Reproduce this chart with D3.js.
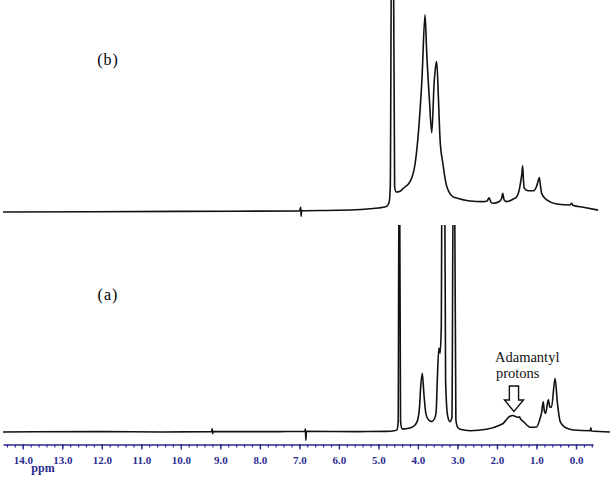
<!DOCTYPE html>
<html>
<head>
<meta charset="utf-8">
<script src="https://cdn.jsdelivr.net/npm/d3@7"></script>
<style>
  body { margin: 0; background: #fff; }
  svg { display: block; }
  text { font-family: "Liberation Serif", "DejaVu Serif", serif; }
</style>
</head>
<body>
<svg id="nmr" width="614" height="477"></svg>
<script>
// spectrum (b): chemical shift (ppm) and intensity (arbitrary units, 100 = panel top)
var ppmB = [14.5, 10.0, 7.0, 6.965, 6.955, 6.945, 6.0, 5.0, 4.8, 4.73, 4.70, 4.665, 4.625, 4.59, 4.55,
  4.45, 4.37, 4.20, 4.07, 3.99, 3.90, 3.82, 3.78, 3.71, 3.65, 3.59, 3.54, 3.525, 3.48, 3.44, 3.37,
  3.27, 3.10, 3.02, 2.68, 2.35, 2.25, 2.20, 2.15, 2.09, 1.95, 1.88, 1.855, 1.82, 1.75, 1.60, 1.50,
  1.43, 1.40, 1.37, 1.35, 1.33, 1.31, 1.21, 1.08, 1.00, 0.96, 0.93, 0.90, 0.87, 0.74, 0.49, 0.15,
  0.11, 0.08, -0.185, -0.56];
var intB = [0, 0.3, 0.5, 2.2, -2, 0.6, 0.8, 1.9, 2.6, 4.5, 12, 140, 140, 12, 9.4,
  9.8, 11.2, 14.3, 23, 37, 62, 93, 76, 53, 37.4, 61, 70, 71, 53, 34, 23,
  12, 7, 6.6, 5.2, 4.9, 5.2, 6.7, 4.6, 4.1, 4.8, 6.5, 8.8, 5.8, 4.9, 6.0, 7.2,
  11, 14.3, 18, 21.8, 15, 11.2, 10, 10, 12, 14.5, 16.2, 12.5, 8.8, 5.7, 3.8, 3.3,
  4.1, 3.2, 2.2, 0.9];

// spectrum (a)
var ppmA = [14.5, 12.0, 10.5, 9.22, 9.205, 9.195, 9.18, 7.5, 6.86, 6.848, 6.836, 6.822, 5.5, 4.8, 4.6,
  4.53, 4.50, 4.478, 4.465, 4.44, 4.40, 4.30, 4.12, 4.02, 3.96, 3.93, 3.89, 3.85, 3.80, 3.74, 3.65,
  3.58, 3.54, 3.51, 3.47, 3.44, 3.41, 3.39, 3.375, 3.36, 3.345, 3.325, 3.30, 3.25, 3.19, 3.14,
  3.105, 3.075, 3.04, 3.0, 2.93, 2.68, 2.26, 1.92, 1.84, 1.71, 1.67, 1.60, 1.54, 1.46, 1.43, 1.40,
  1.33, 1.16, 1.0, 0.92, 0.87, 0.83, 0.80, 0.77, 0.70, 0.66, 0.62, 0.53, 0.47, 0.40, 0.28, 0.07,
  -0.36, -0.375, -0.39, -0.86];
var intA = [0, 0.2, 0, 0.2, 1.6, -0.8, 0.2, 0.2, 0.3, 1.6, -4, 0.3, 0.2, 0.3, 0.6,
  1, 5, 130, 130, 5, 1.5, 1.6, 2.6, 5, 12, 21.9, 28.4, 18.7, 9, 6, 5.0,
  6.5, 9.5, 25, 40.6, 38, 50, 130, 130, 100, 130, 130, 25, 8, 5, 7,
  130, 130, 6, 2.5, 1.3, 0.6, 1.3, 3.4, 4.2, 7.1, 7.6, 8.0, 7.6, 7.1, 7.3, 6.2,
  5.0, 2.3, 2.4, 5.8, 9.5, 14.6, 10, 9, 15.5, 12, 12, 25.9, 13.9, 5, 2.3, 1,
  0.6, 2, 0.5, 0];

var majorTicks = [14, 13, 12, 11, 10, 9, 8, 7, 6, 5, 4, 3, 2, 1, 0];
var panelLabels = ["(b)", "(a)"];
var annotationLines = ["Adamantyl", "protons"];
var annotationPpm = 1.57;

var svg = d3.select("#nmr");
var axisColor = "#2b2b8f";
var serif = "'Liberation Serif', 'DejaVu Serif', serif";

var x = d3.scaleLinear().domain([14.5, -0.43]).range([3, 593]);
var yB = d3.scaleLinear().domain([0, 100]).range([212, 0]);
var yA = d3.scaleLinear().domain([0, 100]).range([432, 225]);

svg.append("defs").append("clipPath")
  .attr("id", "clipA")
  .append("rect")
  .attr("x", 0).attr("y", 225).attr("width", 614).attr("height", 252);

function drawTrace(ppm, ints, y, clip) {
  var pts = ppm.map(function(p, i) { return [p, ints[i]]; });
  var line = d3.line()
    .x(function(d) { return x(d[0]); })
    .y(function(d) { return y(d[1]); })
    .curve(d3.curveMonotoneX);
  var path = svg.append("path")
    .datum(pts)
    .attr("d", line)
    .attr("fill", "none")
    .attr("stroke", "#111")
    .attr("stroke-width", 1.6)
    .attr("stroke-linejoin", "round");
  if (clip) path.attr("clip-path", "url(#" + clip + ")");
}

drawTrace(ppmB, intB, yB, null);
drawTrace(ppmA, intA, yA, "clipA");

// panel labels
svg.selectAll(".panel-label")
  .data([{t: panelLabels[0], y: 65}, {t: panelLabels[1], y: 300}])
  .enter().append("text")
  .attr("class", "panel-label")
  .attr("x", 108).attr("y", function(d) { return d.y; })
  .attr("text-anchor", "middle")
  .attr("font-family", serif)
  .attr("font-size", 16)
  .style("letter-spacing", "1px")
  .text(function(d) { return d.t; });

// annotation
var ax = x(annotationPpm);
var ann = svg.append("text")
  .attr("font-family", serif)
  .attr("font-size", 14.5)
  .attr("fill", "#111");
ann.append("tspan").attr("x", 495).attr("y", 362).text(annotationLines[0]);
ann.append("tspan").attr("x", 496).attr("y", 378).text(annotationLines[1]);

svg.append("path")
  .attr("d", "M" + (ax - 4.6) + ",386 L" + (ax + 4.6) + ",386 L" + (ax + 4.6) + ",400 L" + (ax + 9.5) + ",400 L" +
    ax + ",411.5 L" + (ax - 9.5) + ",400 L" + (ax - 4.6) + ",400 Z")
  .attr("fill", "#fff")
  .attr("stroke", "#111")
  .attr("stroke-width", 1.4)
  .attr("stroke-linejoin", "miter");

// ppm axis
var axisG = svg.append("g").attr("transform", "translate(0,444.5)");
var minor = d3.range(-2, 73).map(function(i) { return i * 0.2; });
axisG.append("g")
  .call(d3.axisBottom(x).tickValues(minor).tickSize(3).tickSizeOuter(0).tickFormat(""))
  .call(function(g) {
    g.select(".domain").attr("stroke", axisColor).attr("stroke-width", 1.6);
    g.selectAll(".tick line").attr("stroke", axisColor).attr("stroke-width", 1.2);
  });
axisG.append("g")
  .call(d3.axisBottom(x).tickValues(majorTicks).tickSize(5).tickSizeOuter(0).tickFormat(d3.format(".1f")))
  .call(function(g) {
    g.select(".domain").remove();
    g.selectAll(".tick line").attr("stroke", axisColor).attr("stroke-width", 1.4);
    g.selectAll(".tick text")
      .attr("y", 12)
      .attr("fill", axisColor)
      .attr("font-family", serif)
      .attr("font-size", 11)
      .attr("font-weight", "bold");
  });

svg.append("text")
  .attr("x", 43).attr("y", 472)
  .attr("text-anchor", "middle")
  .attr("fill", axisColor)
  .attr("font-family", serif)
  .attr("font-size", 12)
  .attr("font-weight", "bold")
  .text("ppm");
</script>
</body>
</html>
